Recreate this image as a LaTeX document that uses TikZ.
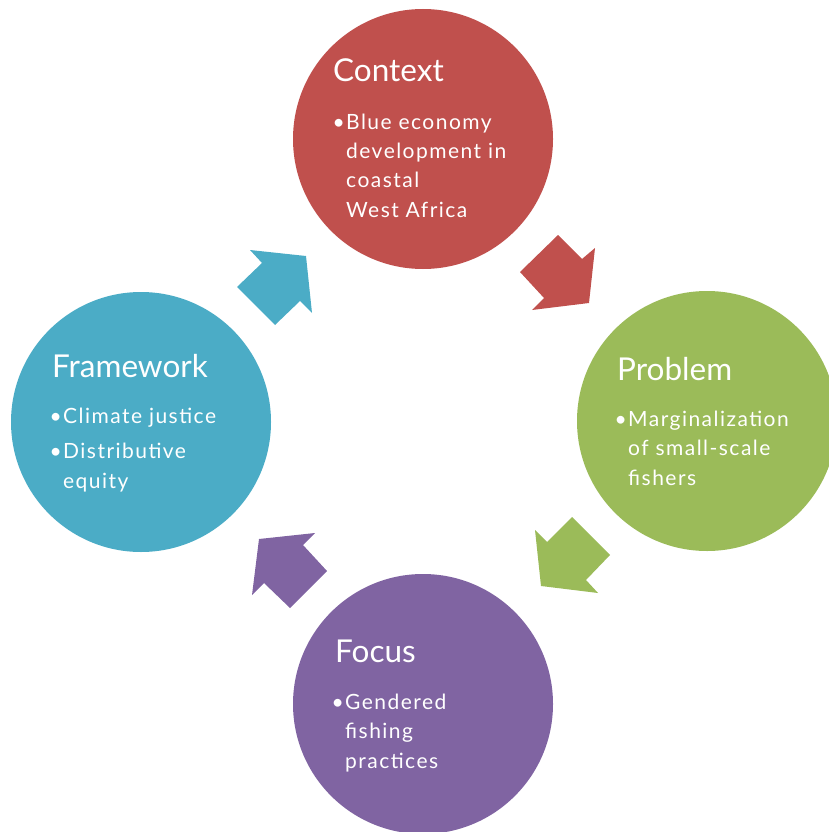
\documentclass[tikz,border=0pt]{standalone}
\usepackage{fontspec}
\setmainfont{Lato}
\newfontfamily\bodyfont[LetterSpace=7]{Lato}
\usepackage{tikz}
\usepackage{xcolor}
\definecolor{Cycle_Red}{HTML}{C0504D}
\definecolor{Cycle_Green}{HTML}{9BBB59}
\definecolor{Cycle_Purple}{HTML}{8064A2}
\definecolor{Cycle_Blue}{HTML}{4BACC6}
\newcommand{\bul}{\llap{\textbullet\hspace{1.5pt}}}
\tikzset{
    stage/.style={circle, minimum size=260pt, inner sep=0pt},
    stagetitle/.style={anchor=base west, inner sep=0pt, text=white, font=\fontsize{31.5}{36}\selectfont},
    stagebody/.style={anchor=base west, inner sep=0pt, text=white, align=left, font=\bodyfont\fontsize{21}{29.3}\selectfont}
}

\begin{document}
\begin{tikzpicture}[x=1pt, y=-1pt]
    \useasboundingbox (0,0) rectangle (829,832);
    \begin{scope}
    \clip (0,0) rectangle (829,832);
    % Four stages of the cycle
    \node[stage, fill=Cycle_Red] (context) at (423,139) {};
    \node[stage, fill=Cycle_Green] (problem) at (707,421) {};
    \node[stage, fill=Cycle_Purple] (focus) at (423,704) {};
    \node[stage, fill=Cycle_Blue] (framework) at (141,422) {};
    \end{scope}

    % Titles and bullets (bodies sit on their last baseline)
    \node[stagetitle] (contexttitle) at (333,82) {Context};
    \node[stagebody] (contextbody) at (346,217) {\bul Blue economy\\development in\\coastal\\West Africa};
    \node[stagetitle] (problemtitle) at (617,380) {Problem};
    \node[stagebody] (problembody) at (628,485) {\bul Marginalization\\of small-scale\\fishers};
    \node[stagetitle] (focustitle) at (335,662) {Focus};
    \node[stagebody] (focusbody) at (345,768) {\bul Gendered\\fishing\\practices};
    \node[stagetitle] (frameworktitle) at (52,377) {Framework};
    \node[stagebody] (frameworkbody) at (63,488) {\bul Climate justice\\[5.7pt]\bul Distributive\\equity};

    % Block arrows between the stages
    \fill[Cycle_Red] (520,272) -- (558,235) -- (582,259) -- (595,248) -- (589,303) -- (532,310) -- (544,298) -- cycle;
    \fill[Cycle_Green] (572,517) -- (610,555) -- (586,580) -- (598,593) -- (541,586) -- (535,530) -- (547,542) -- cycle;
    \fill[Cycle_Purple] (259,539) -- (315,533) -- (303,545) -- (327,571) -- (290,608) -- (264,583) -- (252,595) -- cycle;
    \fill[Cycle_Blue] (250,250) -- (306,256) -- (312,313) -- (300,301) -- (275,325) -- (237,287) -- (262,263) -- cycle;
\end{tikzpicture}
\end{document}
